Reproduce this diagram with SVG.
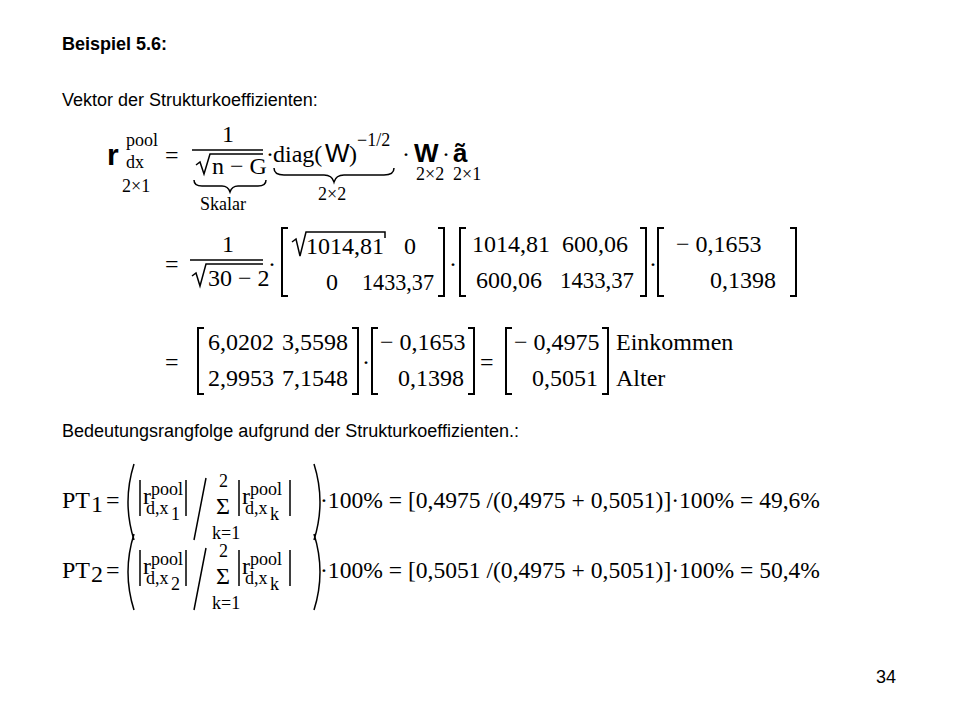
<svg xmlns="http://www.w3.org/2000/svg" width="960" height="720" viewBox="0 0 960 720">
<style>
.a{font-family:"Liberation Sans",Arial,sans-serif;font-size:18px;fill:#000}
.t{font-family:"Liberation Serif","Times New Roman",serif;font-size:24px;fill:#000}
.s{font-family:"Liberation Serif","Times New Roman",serif;font-size:18px;fill:#000}
.l{stroke:#000;stroke-width:1.5;fill:none}
.b{stroke:#000;stroke-width:2;fill:none}
</style>
<rect width="960" height="720" fill="#fff"/>
<text class="a" x="62" y="50" font-weight="bold">Beispiel 5.6:</text>
<text class="a" x="62" y="106">Vektor der Strukturkoeffizienten:</text>
<g id="f1">
<text x="107" y="165" font-family="Liberation Sans,sans-serif" font-size="30" font-weight="bold">r</text>
<text class="s" x="126" y="146">pool</text>
<text class="s" x="126" y="168">dx</text>
<text class="s" x="122" y="192">2×1</text>
<text class="t" x="165" y="163">=</text>
<text class="t" x="222" y="142">1</text>
<line class="l" x1="192" y1="150" x2="263" y2="150"/>
<path class="l" d="M196,165 L200,162 L204,174 L210,154 L263,154"/>
<text class="t" x="212" y="174">n − G</text>
<path class="l" d="M194,180 q0,6 8,6 h20 q6,0 8,6 q2,-6 8,-6 h20 q8,0 8,-6"/>
<text class="s" x="200" y="210">Skalar</text>
<text class="t" x="266" y="162">·</text>
<text class="t" x="273" y="162">diag(</text>
<text x="325" y="162" font-family="Liberation Sans,sans-serif" font-size="26">W</text>
<text class="t" x="349" y="162">)</text>
<text class="s" x="357" y="146">−1/2</text>
<path class="l" d="M274,168 q0,7 10,7 h40 q8,0 10,7 q2,-7 10,-7 h40 q10,0 10,-7"/>
<text class="s" x="318" y="200">2×2</text>
<text class="t" x="402" y="162">·</text>
<text x="414" y="162" font-family="Liberation Sans,sans-serif" font-size="26" font-weight="bold">W</text>
<text class="t" x="442" y="162">·</text>
<text x="453" y="162" font-family="Liberation Sans,sans-serif" font-size="26" font-weight="bold">ã</text>
<text class="s" x="416" y="180">2×2</text>
<text class="s" x="453" y="180">2×1</text>
</g>
<g id="f2">
<text class="t" x="165" y="272">=</text>
<text class="t" x="222" y="252">1</text>
<line class="l" x1="190" y1="260" x2="263" y2="260"/>
<path class="l" d="M192,276 L196,273 L200,286 L206,264 L263,264"/>
<text class="t" x="208" y="286">30 − 2</text>
<text class="t" x="268" y="272">·</text>
<path class="b" d="M288,228 h-6 v68 h6 M438,228 h6 v68 h-6"/>
<path class="l" d="M292,242 L296,239 L300,256 L306,232 L385,232 L385,238"/>
<text class="t" x="306" y="254">1014,81</text>
<text class="t" x="404" y="254">0</text>
<text class="t" x="326" y="290">0</text>
<text class="t" x="362" y="290" textLength="72" lengthAdjust="spacingAndGlyphs">1433,37</text>
<text class="t" x="449" y="272">·</text>
<path class="b" d="M466,228 h-6 v68 h6 M640,228 h6 v68 h-6"/>
<text class="t" x="472" y="252">1014,81</text>
<text class="t" x="562" y="252">600,06</text>
<text class="t" x="476" y="288">600,06</text>
<text class="t" x="560" y="288" textLength="74" lengthAdjust="spacingAndGlyphs">1433,37</text>
<text class="t" x="649" y="272">·</text>
<path class="b" d="M664,228 h-6 v68 h6 M790,228 h6 v68 h-6"/>
<text class="t" x="676" y="252">− 0,1653</text>
<text class="t" x="710" y="288">0,1398</text>
</g>
<g id="f3">
<text class="t" x="165" y="370">=</text>
<path class="b" d="M204,328 h-6 v66 h6 M352,328 h6 v66 h-6"/>
<text class="t" x="208" y="350">6,0202</text>
<text class="t" x="282" y="350">3,5598</text>
<text class="t" x="208" y="386">2,9953</text>
<text class="t" x="282" y="386">7,1548</text>
<text class="t" x="362" y="370">·</text>
<path class="b" d="M378,328 h-6 v66 h6 M468,328 h6 v66 h-6"/>
<text class="t" x="380" y="350">− 0,1653</text>
<text class="t" x="398" y="386">0,1398</text>
<text class="t" x="480" y="370">=</text>
<path class="b" d="M512,328 h-6 v66 h6 M602,328 h6 v66 h-6"/>
<text class="t" x="514" y="350">− 0,4975</text>
<text class="t" x="532" y="386">0,5051</text>
<text class="t" x="616" y="350">Einkommen</text>
<text class="t" x="616" y="386">Alter</text>
</g>
<text class="a" x="62" y="437">Bedeutungsrangfolge aufgrund der Strukturkoeffizienten.:</text>
<g id="pt1">
<text class="t" x="62" y="508">PT</text><text class="t" x="91" y="512">1</text>
<text class="t" x="106" y="508">=</text>
<path class="l" d="M134,464 q-12,38 0,76 M314,464 q12,38 0,76"/>
<path class="l" d="M140,480 v36 M186,480 v36 M239,480 v36 M290,480 v36 M206,478 L194,540"/>
<text class="t" x="143" y="504">r</text><text class="s" x="151" y="495">pool</text><text class="s" x="146" y="514">d,x</text><text class="s" x="171" y="520" font-size="14">1</text>
<text class="t" x="216" y="514" font-size="28">Σ</text><text class="s" x="219" y="487">2</text><text class="s" x="212" y="539">k=1</text>
<text class="t" x="242" y="504">r</text><text class="s" x="250" y="495">pool</text><text class="s" x="245" y="514">d,x</text><text class="s" x="270" y="520" font-size="14">k</text>
<text class="t" x="320" y="508" textLength="500" lengthAdjust="spacingAndGlyphs">·100% = [0,4975 /(0,4975 + 0,5051)]·100% = 49,6%</text>
</g>
<g id="pt2">
<text class="t" x="62" y="578">PT</text><text class="t" x="91" y="582">2</text>
<text class="t" x="106" y="578">=</text>
<path class="l" d="M134,534 q-12,38 0,76 M314,534 q12,38 0,76"/>
<path class="l" d="M140,550 v36 M186,550 v36 M239,550 v36 M290,550 v36 M206,548 L194,610"/>
<text class="t" x="143" y="574">r</text><text class="s" x="151" y="565">pool</text><text class="s" x="146" y="584">d,x</text><text class="s" x="171" y="590" font-size="14">2</text>
<text class="t" x="216" y="584" font-size="28">Σ</text><text class="s" x="219" y="557">2</text><text class="s" x="212" y="609">k=1</text>
<text class="t" x="242" y="574">r</text><text class="s" x="250" y="565">pool</text><text class="s" x="245" y="584">d,x</text><text class="s" x="270" y="590" font-size="14">k</text>
<text class="t" x="320" y="578" textLength="500" lengthAdjust="spacingAndGlyphs">·100% = [0,5051 /(0,4975 + 0,5051)]·100% = 50,4%</text>
</g>
<text class="a" x="876" y="683" font-size="16">34</text>
</svg>
